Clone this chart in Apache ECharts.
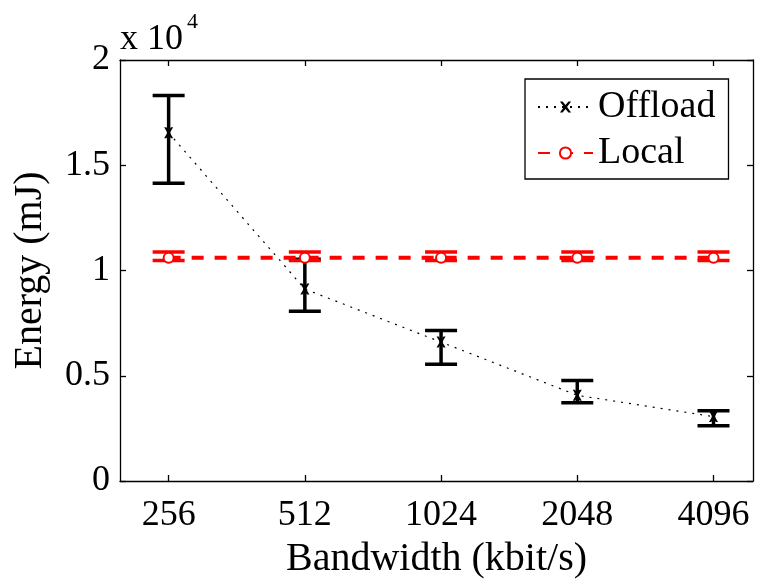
<!DOCTYPE html>
<html>
<head>
<meta charset="utf-8">
<script src="https://cdn.jsdelivr.net/npm/echarts@6/dist/echarts.min.js"></script>
<style>html,body{margin:0;padding:0;background:#fff;overflow:hidden;}#c{width:760px;height:584px;}</style>
</head>
<body>
<div id="c"></div>
<script>
// ---- data ----
const categories = ['256', '512', '1024', '2048', '4096'];
const xPos = [1, 2, 3, 4, 5];
const offloadMean = [16540, 9120, 6600, 4070, 3060];
const offloadLow  = [14140, 8070, 5550, 3720, 2620];
const offloadHigh = [18310, 10540, 7150, 4770, 3340];
const localMean = [10600, 10600, 10600, 10600, 10600];
const localLow  = [10480, 10480, 10480, 10480, 10480];
const localHigh = [10880, 10880, 10880, 10880, 10880];
const yTicks = [0, 5000, 10000, 15000, 20000];
const yTickLabels = ['0', '0.5', '1', '1.5', '2'];

const FONT = "'Liberation Serif', 'Times New Roman', serif";
const chart = echarts.init(document.getElementById('c'), null, {renderer: 'canvas', width: 760, height: 584});

function errBar(color, lw) {
  return function (params, api) {
    const x = api.value(0), lo = api.value(1), hi = api.value(2);
    const pHi = api.coord([x, hi]);
    const pLo = api.coord([x, lo]);
    const hw = 16;
    const st = {stroke: color, lineWidth: lw};
    return {type: 'group', children: [
      {type: 'line', shape: {x1: pHi[0], y1: pHi[1], x2: pLo[0], y2: pLo[1]}, style: st},
      {type: 'line', shape: {x1: pHi[0] - hw, y1: pHi[1], x2: pHi[0] + hw, y2: pHi[1]}, style: st},
      {type: 'line', shape: {x1: pLo[0] - hw, y1: pLo[1], x2: pLo[0] + hw, y2: pLo[1]}, style: st}
    ]};
  };
}

const xMarker = 'path://M0,0 L2.4,0 L5,3.2 L7.6,0 L10,0 L6.4,5 L10,10 L7.6,10 L5,6.8 L2.4,10 L0,10 L3.6,5 Z';

const axisLineStyle = {color: '#000', width: 1.3};
const tickStyle = {show: true, inside: true, length: 6, lineStyle: {color: '#000', width: 1.3}};

const option = {
  backgroundColor: '#fff',
  animation: false,
  textStyle: {fontFamily: FONT},
  grid: {left: 120, right: 7, top: 60, bottom: 95, containLabel: false},
  xAxis: [{
    type: 'value', min: 0.643, max: 5.29,
    axisLine: {show: true, onZero: false, lineStyle: axisLineStyle},
    axisTick: Object.assign({customValues: xPos}, tickStyle),
    axisLabel: {customValues: xPos, formatter: v => categories[Math.round(v) - 1] || '',
      fontFamily: FONT, fontSize: 36, color: '#000', margin: 17},
    splitLine: {show: false},
    name: 'Bandwidth (kbit/s)', nameLocation: 'middle', nameGap: 58,
    nameTextStyle: {fontFamily: FONT, fontSize: 40, color: '#000'}
  }, {
    type: 'value', position: 'top', min: 0.643, max: 5.29,
    axisLine: {show: true, onZero: false, lineStyle: axisLineStyle},
    axisTick: Object.assign({customValues: xPos}, tickStyle),
    axisLabel: {show: false}, splitLine: {show: false}
  }],
  yAxis: [{
    type: 'value', min: 0, max: 20000, interval: 5000,
    axisLine: {show: true, lineStyle: axisLineStyle},
    axisTick: tickStyle,
    axisLabel: {formatter: v => yTickLabels[yTicks.indexOf(v)] ?? '',
      fontFamily: FONT, fontSize: 36, color: '#000', margin: 10},
    splitLine: {show: false},
    name: 'Energy (mJ)', nameLocation: 'middle', nameGap: 70,
    nameTextStyle: {fontFamily: FONT, fontSize: 40, color: '#000'}
  }, {
    type: 'value', position: 'right', min: 0, max: 20000, interval: 5000,
    axisLine: {show: true, lineStyle: axisLineStyle},
    axisTick: tickStyle,
    axisLabel: {show: false}, splitLine: {show: false}
  }],
  legend: {
    left: 525, top: 79, orient: 'vertical',
    data: ['Offload', 'Local'],
    backgroundColor: '#fff',
    borderColor: '#000', borderWidth: 1.3, borderRadius: 0,
    padding: [8, 13, 6, 12],
    itemWidth: 55, itemHeight: 14, itemGap: 6,
    textStyle: {fontFamily: FONT, fontSize: 38, color: '#000', lineHeight: 40}
  },
  graphic: [
    {type: 'text', left: 120, top: 22, style: {text: 'x 10', fontFamily: FONT, fontSize: 36, fill: '#000'}},
    {type: 'text', left: 187, top: 11, style: {text: '4', fontFamily: FONT, fontSize: 22, fill: '#000'}}
  ],
  series: [
    {
      name: 'Offload', type: 'line',
      data: xPos.map((x, i) => [x, offloadMean[i]]),
      lineStyle: {color: '#000', width: 1.2, type: [2, 6]},
      itemStyle: {color: '#000'},
      symbol: xMarker, symbolSize: [9, 11], showSymbol: true, z: 2
    },
    {
      name: 'OffloadErr', type: 'custom',
      data: xPos.map((x, i) => [x, offloadLow[i], offloadHigh[i]]),
      encode: {x: 0, y: [1, 2]},
      renderItem: errBar('#000', 3.5), z: 3
    },
    {
      name: 'LocalErr', type: 'custom',
      data: xPos.map((x, i) => [x, localLow[i], localHigh[i]]),
      encode: {x: 0, y: [1, 2]},
      renderItem: errBar('#ff0000', 3.5), z: 4
    },
    {
      name: 'Local', type: 'line',
      data: xPos.map((x, i) => [x, localMean[i]]),
      lineStyle: {color: '#ff0000', width: 4, type: [12, 11]},
      itemStyle: {color: '#fff', borderColor: '#ff0000', borderWidth: 2},
      symbol: 'circle', symbolSize: 10, showSymbol: true, z: 5
    }
  ]
};
chart.setOption(option);
</script>
</body>
</html>
